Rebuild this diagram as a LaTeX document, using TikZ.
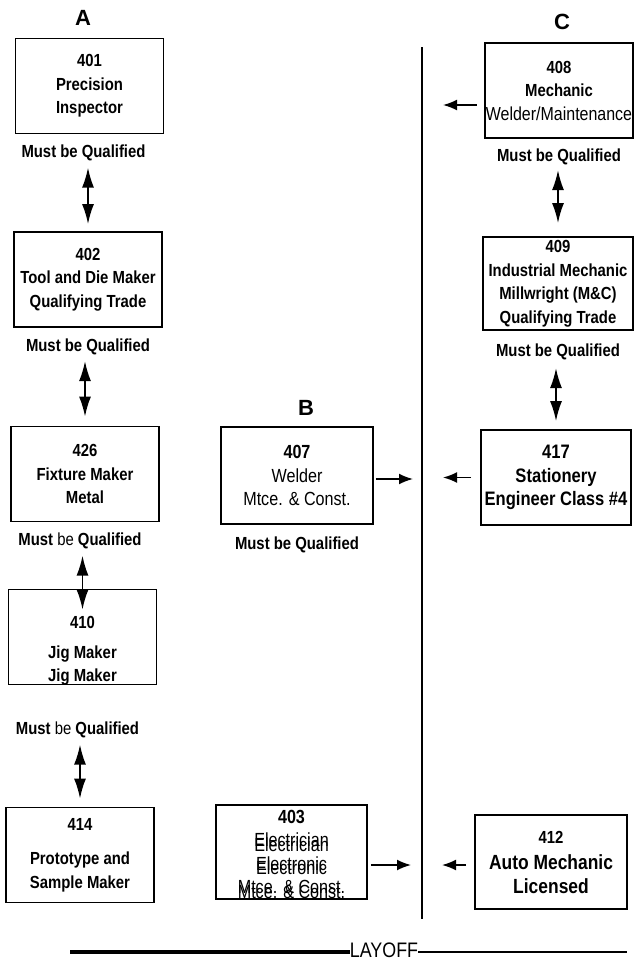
\documentclass[tikz,border=0pt]{standalone}
\usepackage{fontspec}
\setmainfont{Liberation Sans}
\newfontfamily\narrowfont{Liberation Sans}[FakeStretch=0.85]
\usepackage{tikz}
\usetikzlibrary{
	arrows.meta,
	positioning,
	}

\newcommand{\boxfont}[1]{\narrowfont\fontsize{#1}{23.5}\selectfont}

\tikzset{
	jobtext/.style={align=center, inner sep=1pt, font=\boxfont{17.5}\bfseries},
	job/.style={jobtext, draw, line width=1.8pt, minimum width=148pt, minimum height=95pt},
	thinjob/.style={font=\boxfont{19}\mdseries},
	qual/.style={font=\narrowfont\fontsize{17.5}{20}\selectfont\bfseries},
	colhead/.style={font=\fontsize{22}{26}\selectfont\bfseries},
	dbl/.style={{Latex[length=20pt,width=12pt]}-{Latex[length=20pt,width=12pt]}, line width=1.8pt},
	toline/.style={-{Latex[length=14pt,width=11pt]}, line width=1.7pt},
}

\begin{document}
\begin{tikzpicture}[x=1pt, y=-1pt]
		\useasboundingbox (0,0) rectangle (635,961);
		% headings
		\node[colhead] (hA) at (83,18) {A};
		\node[colhead] (hB) at (306,408) {B};
		\node[colhead] (hC) at (562,22) {C};
		% column A
		\node[job] (b401) at (89.5,86) {401\\Precision\\Inspector};
		\node[qual, below=7pt of b401, xshift=-6pt] (q1) {Must be Qualified};
		\node[job] (b402) at (88,279.5) {402\\Tool and Die Maker\\Qualifying Trade};
		\node[qual, below=7pt of b402] (q2) {Must be Qualified};
		\node[job] (b426) at (85,474) {426\\Fixture Maker\\Metal};
		\node[qual, below=7pt of b426, xshift=-5pt] (q3) {Must {\mdseries be} Qualified};
		\node[job] (b410) at (82.5,637) {};
		\node[jobtext] (t410) at (82.5,651) {410\\[6pt]Jig Maker\\Jig Maker};
		\node[qual, below=33pt of b410, xshift=-5pt] (q4) {Must {\mdseries be} Qualified};
		\node[job] (b414) at (80,855) {414\\[11pt]Prototype and\\Sample Maker};
		\draw[dbl, shorten <=3pt, shorten >=7pt] (q1.south -| b402.north) -- (b402.north);
		\draw[dbl, shorten <=3pt, shorten >=9pt] (q2.south -| b426.north) -- (b426.north);
		\draw[dbl, shorten <=3pt, shorten >=-21pt] (q3.south -| b410.north) -- (b410.north);
		\draw[dbl, shorten <=3pt, shorten >=8pt] (q4.south -| b414.north) -- (b414.north);
		% column B
		\node[job, thinjob, minimum width=152pt, minimum height=97pt] (b407) at (297,475.5) {\textbf{407}\\Welder\\Mtce. \& Const.};
		\node[qual, below=8pt of b407] (q407) {Must be Qualified};
		\node[job, thinjob, minimum width=151pt, minimum height=94pt] (b403) at (291.5,852) {\textbf{403}\\Electrician\\Electronic\\Mtce. \& Const.};
		\node[jobtext, thinjob] (g403) at (291.5,868) {Electrician\\Electronic\\Mtce. \& Const.};
		% dividing line
		\coordinate (sTop) at (422,47);
		\coordinate (sBot) at (422,919);
		\draw[line width=2.6pt] (sTop) -- (sBot);
		% column C
		\node[job] (b408) at (559,90.5) {408\\Mechanic\\{\mdseries\fontsize{18.8}{23.5}\selectfont Welder/Maintenance}};
		\node[qual, below=6pt of b408] (q408) {Must be Qualified};
		\node[job, minimum width=150pt, minimum height=93pt] (b409) at (558,283.5) {409\\Industrial Mechanic\\Millwright (M\&C)\\Qualifying Trade};
		\node[qual, below=9pt of b409] (q409) {Must be Qualified};
		\node[job, minimum width=150pt, font=\boxfont{19.5}\bfseries] (b417) at (556,477.5) {417\\Stationery\\Engineer Class \#4};
		\node[job, minimum width=152pt, minimum height=94pt, font=\boxfont{20.5}\bfseries] (b412) at (551,862) {{\fontsize{17.5}{23.5}\selectfont 412}\\[3pt]Auto Mechanic\\Licensed};
		\draw[dbl, shorten <=2pt, shorten >=13pt] (q408.south -| b409.north) -- (b409.north);
		\draw[dbl, shorten <=5pt, shorten >=8pt] (q409.south -| b417.north) -- (b417.north);
		% arrows to the line
		\draw[toline, shorten <=2pt, shorten >=9pt] ([yshift=-3.5pt]b407.east) -- ([yshift=-3.5pt]b407.east -| sTop);
		\draw[toline, shorten <=3pt, shorten >=11pt] ([yshift=-13pt]b403.east) -- ([yshift=-13pt]b403.east -| sTop);
		\draw[toline, shorten <=7pt, shorten >=21pt] ([yshift=-14.5pt]b408.west) -- ([yshift=-14.5pt]b408.west -| sTop);
		\draw[toline, shorten <=9pt, shorten >=21pt] (b417.west) -- (b417.west -| sTop);
		\draw[toline, shorten <=8pt, shorten >=20pt] ([yshift=-3pt]b412.west) -- ([yshift=-3pt]b412.west -| sTop);
		% layoff
		\node[font=\narrowfont\fontsize{21}{24}\selectfont, inner sep=0pt] (layoff) at (384,950) {LAYOFF};
		\coordinate (layL) at (70,952);
		\coordinate (layR) at (627,952);
		\draw[line width=4.5pt] (layL) -- (layL -| layoff.west);
		\draw[line width=1.5pt] (layoff.east |- layR) -- (layR);
	\end{tikzpicture}
\end{document}
